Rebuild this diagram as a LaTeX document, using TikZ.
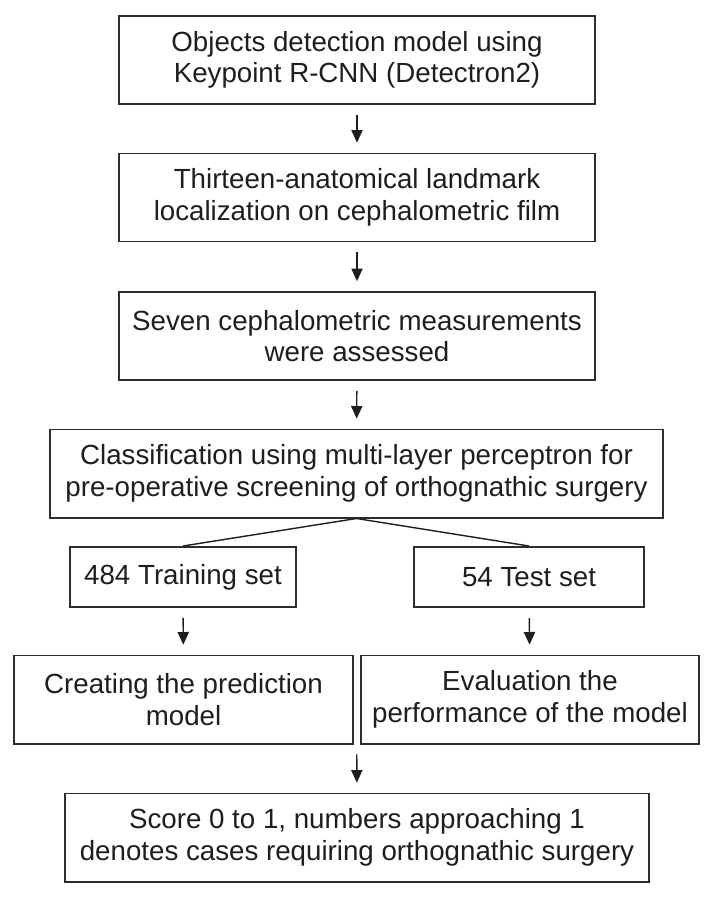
\documentclass[tikz,border=0pt]{standalone}
\usepackage{fontspec}
\setmainfont{Liberation Sans}
\usetikzlibrary{arrows.meta, positioning, calc}
\definecolor{BoxGray}{RGB}{45, 45, 45}
\definecolor{InkBlack}{RGB}{30, 30, 30}

\begin{document}
\begin{tikzpicture}[x=0.025cm, y=-0.025cm,
        stage/.style={draw=BoxGray, line width=1.4pt, align=center, inner sep=0pt,
            text=InkBlack, font=\fontsize{19.7}{22.5}\selectfont, minimum height=2.2cm},
        flow/.style={-{Triangle[length=9pt, width=8pt]}, line width=1pt, draw=InkBlack,
            shorten <=7pt, shorten >=7pt}]
        \useasboundingbox (0, 0) rectangle (711, 898);

        % main column
        \node[stage, minimum width=11.9cm] (detect) at (357, 60) {Objects detection model using\\Keypoint R-CNN (Detectron2)};
        \node[stage, minimum width=11.9cm] (landmark) at (357, 197.5) {Thirteen-anatomical landmark\\localization on cephalometric film};
        \node[stage, minimum width=11.9cm] (measure) at (357, 336) {Seven cephalometric measurements\\were assessed};
        \node[stage, minimum width=15.3cm] (classify) at (356.5, 473.5) {Classification using multi-layer perceptron for\\pre-operative screening of orthognathic surgery};

        % split into two sets
        \node[stage, minimum width=5.65cm, minimum height=1.5cm] (train) at (183, 577) {484 Training set};
        \node[stage, minimum width=5.75cm, minimum height=1.5cm] (test) at (529, 577) {54 Test set};
        \node[stage, minimum width=8.45cm] (predict) at (183.5, 699.5) {Creating the prediction\\model};
        \node[stage, minimum width=8.45cm] (evaluate) at (530, 699.5) {Evaluation the\\performance of the model};

        % result
        \node[stage, minimum width=14.6cm] (score) at (357, 837.5) {Score 0 to 1, numbers approaching 1\\denotes cases requiring orthognathic surgery};
        \coordinate (join) at ($(predict.south east)!0.5!(evaluate.south west)$);

        \draw[flow] (detect) -- (landmark);
        \draw[flow] (landmark) -- (measure);
        \draw[flow] (measure) -- (classify);
        \draw[line width=1pt, draw=InkBlack] (train.north) -- (classify.south) -- (test.north);
        \draw[flow] (train) -- (predict);
        \draw[flow] (test) -- (evaluate);
        \draw[flow] (join) -- (score);
    \end{tikzpicture}
\end{document}
